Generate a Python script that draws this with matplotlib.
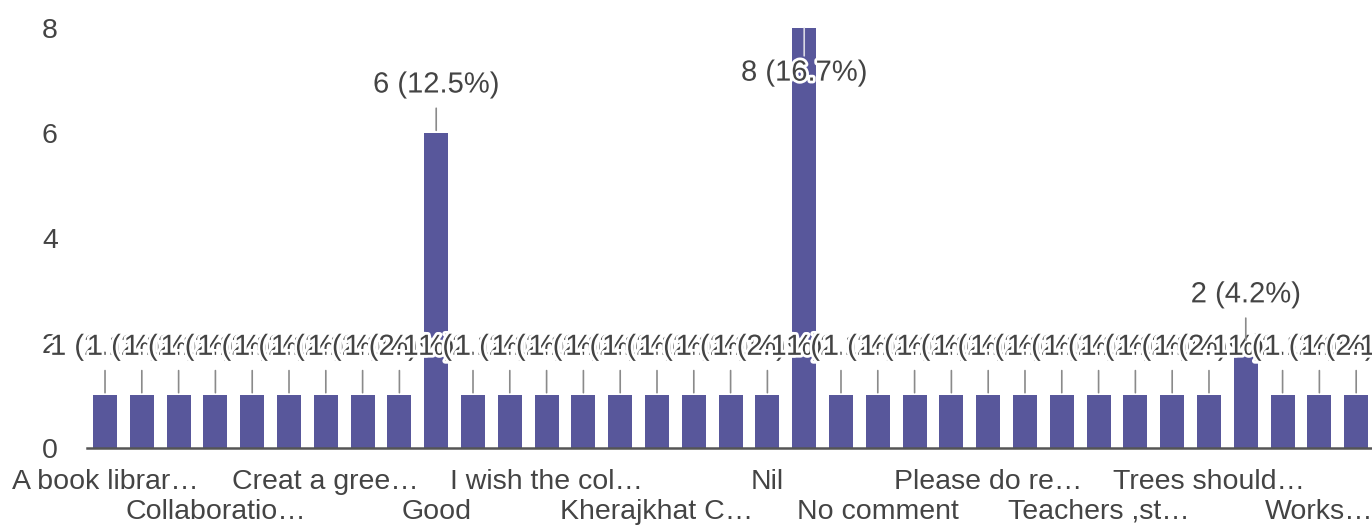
import numpy as np
import matplotlib
matplotlib.use("Agg")
import matplotlib.pyplot as plt
import matplotlib.patheffects as pe

plt.rcParams['font.family'] = ['Liberation Sans', 'DejaVu Sans']

# respuestas por opcion (35 barras, total 48)
counts = [1, 1, 1, 1, 1, 1, 1, 1, 1, 6,
          1, 1, 1, 1, 1, 1, 1, 1, 1, 8,
          1, 1, 1, 1, 1, 1, 1, 1, 1, 1,
          1, 2, 1, 1, 1]
total = 48

# etiquetas visibles (una de cada tres barras)
tick_labels = ["A book librar…", "Collaboratio…", "Creat a gree…", "Good",
               "I wish the col…", "Kherajkhat C…", "Nil", "No comment",
               "Please do re…", "Teachers ,st…", "Trees should…", "Works…"]

bar_color = '#58579b'
text_color = '#444444'

fig = plt.figure(figsize=(13.72, 5.32), dpi=100)
ax = fig.add_axes([0.0634, 0.158, 0.9366, 0.789])

x = np.arange(len(counts))
ax.bar(x, counts, width=0.65, color=bar_color, zorder=2)

ax.set_xlim(-0.49, 34.43)
ax.set_ylim(0, 8)

halo = [pe.withStroke(linewidth=4, foreground='white')]
top = max(counts)
for i, v in enumerate(counts):
    txt = f"{v} ({v / total * 100:.1f}%)"
    if v == top:
        # no cabe arriba: la etiqueta va dentro de la barra
        ax.annotate(txt, xy=(i, v), xytext=(0, -32), textcoords='offset points',
                    ha='center', va='center', fontsize=21, color=text_color,
                    path_effects=halo, zorder=5 + i,
                    arrowprops=dict(arrowstyle='-', color='#d8d8e4', lw=1.2,
                                    shrinkA=0, shrinkB=0))
    else:
        ax.annotate(txt, xy=(i, v), xytext=(0, 35), textcoords='offset points',
                    ha='center', va='center', fontsize=21, color=text_color,
                    path_effects=halo, zorder=5 + i,
                    arrowprops=dict(arrowstyle='-', color='#8a8a8a', lw=1.2,
                                    shrinkA=5, shrinkB=2))

# etiquetas del eje x en dos filas alternadas
ax.set_xticks(x[::3])
ax.set_xticklabels([("\n" if k % 2 else "") + t for k, t in enumerate(tick_labels)],
                   fontsize=20.5, color=text_color, linespacing=1.2)
ax.set_yticks([0, 2, 4, 6, 8])
ax.set_yticklabels(['0', '2', '4', '6', '8'], fontsize=20.5, color=text_color)
ax.tick_params(axis='x', length=0, pad=15)
ax.tick_params(axis='y', length=0, pad=21)

for s in ['top', 'right', 'left']:
    ax.spines[s].set_visible(False)
ax.spines['bottom'].set_color('#555555')
ax.spines['bottom'].set_linewidth(1.8)
ax.spines['bottom'].set_zorder(3)

fig.savefig('out.png', dpi=100)
